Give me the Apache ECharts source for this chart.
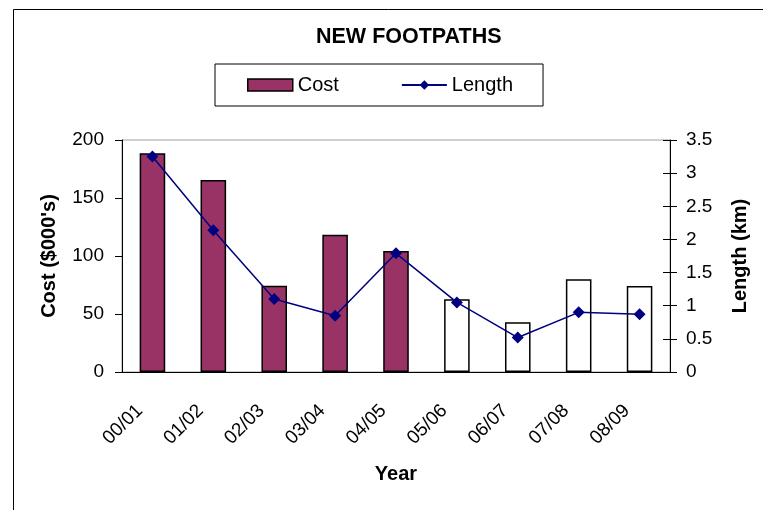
<!DOCTYPE html>
<html>
<head>
<meta charset="utf-8">
<script src="https://cdn.jsdelivr.net/npm/echarts@6/dist/echarts.min.js"></script>
<style>
  html, body { margin: 0; padding: 0; background: #fff; }
  #chart { width: 763px; height: 510px; }
</style>
</head>
<body>
<div id="chart"></div>
<script>
// data
const years = ['00/01', '01/02', '02/03', '03/04', '04/05', '05/06', '06/07', '07/08', '08/09']
const cost = [188.5, 165.5, 74.4, 118.4, 104.3, 62.7, 42.8, 79.9, 74.1]
const length = [3.25, 2.14, 1.1, 0.85, 1.79, 1.05, 0.52, 0.9, 0.87]
// first five years are actuals, rest are planned (drawn hollow)
const actualCount = 5

const font = 'Liberation Sans, Arial, sans-serif'
const costColor = '#993366'
const lineColor = '#000080'

const chart = echarts.init(document.getElementById('chart'))

const costData = cost.map((v, i) => ({
  value: v,
  itemStyle: i < actualCount ? {} : { color: '#ffffff' },
}))

const nameStyle = { fontFamily: font, fontSize: 20, fontWeight: 'bold', color: '#000' }

chart.setOption({
  animation: false,
  textStyle: { fontFamily: font },
  title: {
    text: 'NEW FOOTPATHS',
    left: 311,
    top: 21,
    textStyle: { fontFamily: font, fontSize: 21.5, fontWeight: 'bold', color: '#000' },
  },
  graphic: [
    {
      type: 'rect',
      left: 11,
      top: 7,
      shape: { width: 800, height: 600 },
      style: { fill: 'none', stroke: '#000', lineWidth: 1 },
      silent: true,
    },
  ],
  legend: {
    left: 215,
    top: 64,
    padding: [11, 30, 11, 32],
    itemGap: 62,
    itemWidth: 45,
    itemHeight: 12,
    borderColor: '#000',
    borderWidth: 1,
    textStyle: { fontFamily: font, fontSize: 20, color: '#000' },
    data: [
      { name: 'Cost', icon: 'rect', itemStyle: { borderColor: '#000', borderWidth: 1.5 } },
      { name: 'Length' },
    ],
  },
  grid: {
    left: 122,
    right: 93,
    top: 140,
    bottom: 138,
    show: true,
    borderColor: '#a0a0a0',
    borderWidth: 1,
  },
  xAxis: {
    type: 'category',
    data: years,
    name: 'Year',
    nameLocation: 'middle',
    nameGap: 92,
    nameTextStyle: nameStyle,
    axisLine: { lineStyle: { color: '#000', width: 1 } },
    axisTick: { length: 7, lineStyle: { color: '#000' } },
    axisLabel: {
      rotate: 45,
      margin: 23,
      padding: [0, 18, 0, 0],
      fontSize: 19,
      color: '#000',
      fontFamily: font,
    },
  },
  yAxis: [
    {
      type: 'value',
      min: 0,
      max: 200,
      interval: 50,
      name: "Cost ($000's)",
      nameLocation: 'middle',
      nameRotate: 90,
      nameGap: 63,
      nameTextStyle: nameStyle,
      axisLine: { show: true, lineStyle: { color: '#000' } },
      axisTick: { show: true, length: 7, lineStyle: { color: '#000' } },
      axisLabel: { fontSize: 19, color: '#000', margin: 18, fontFamily: font },
      splitLine: { show: false },
    },
    {
      type: 'value',
      min: 0,
      max: 3.5,
      interval: 0.5,
      position: 'right',
      name: 'Length (km)',
      nameLocation: 'middle',
      nameRotate: 90,
      nameGap: 60,
      nameTextStyle: nameStyle,
      axisLine: { show: true, lineStyle: { color: '#000' } },
      axisTick: { show: true, length: 7, lineStyle: { color: '#000' } },
      axisLabel: { fontSize: 19, color: '#000', margin: 16, fontFamily: font },
      splitLine: { show: false },
    },
    {
      // inner half of the right-hand crossing ticks
      type: 'value',
      min: 0,
      max: 3.5,
      interval: 0.5,
      position: 'right',
      axisLine: { show: false },
      axisTick: { show: true, inside: true, length: 7, lineStyle: { color: '#000' } },
      axisLabel: { show: false },
      splitLine: { show: false },
    },
  ],
  series: [
    {
      name: 'Cost',
      type: 'bar',
      yAxisIndex: 0,
      barWidth: '42%',
      itemStyle: { color: costColor, borderColor: '#000', borderWidth: 1.5 },
      data: costData,
    },
    {
      name: 'Length',
      type: 'line',
      yAxisIndex: 1,
      symbol: 'diamond',
      symbolSize: 12,
      itemStyle: { color: lineColor },
      lineStyle: { color: lineColor, width: 1.5 },
      data: length,
    },
  ],
})
</script>
</body>
</html>
